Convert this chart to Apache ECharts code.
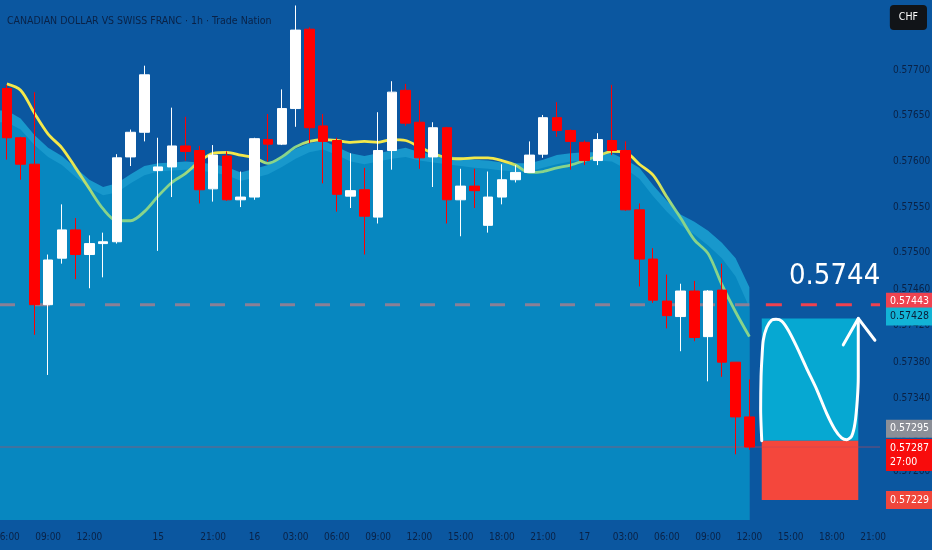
<!DOCTYPE html>
<html><head><meta charset="utf-8">
<script src="https://cdn.jsdelivr.net/npm/echarts@6/dist/echarts.min.js"></script>
<style>html,body{margin:0;padding:0;background:#0b57a0;}#c{width:932px;height:550px;}</style>
</head><body><div id="c"></div>
<script>
// hourly bars (weekend gap between Fri 16:00 and Sun 17:00)
const categories = [
 '14 06:00','14 07:00','14 08:00','14 09:00','14 10:00','14 11:00','14 12:00','14 13:00','14 14:00','14 15:00','14 16:00',
 '15 17:00','15 18:00','15 19:00','15 20:00','15 21:00','15 22:00','15 23:00',
 '16 00:00','16 01:00','16 02:00','16 03:00','16 04:00','16 05:00','16 06:00','16 07:00','16 08:00','16 09:00','16 10:00','16 11:00',
 '16 12:00','16 13:00','16 14:00','16 15:00','16 16:00','16 17:00','16 18:00','16 19:00','16 20:00','16 21:00','16 22:00','16 23:00',
 '17 00:00','17 01:00','17 02:00','17 03:00','17 04:00','17 05:00','17 06:00','17 07:00','17 08:00','17 09:00','17 10:00','17 11:00',
 '17 12:00','17 13:00','17 14:00','17 15:00','17 16:00','17 17:00','17 18:00','17 19:00','17 20:00','17 21:00'
];
const tickLabels = [
 '06:00','','','09:00','','','12:00','','','','',
 '15','','','','21:00','','',
 '16','','','03:00','','','06:00','','','09:00','','',
 '12:00','','','15:00','','','18:00','','','21:00','','',
 '17','','','03:00','','','06:00','','','09:00','','',
 '12:00','','','15:00','','','18:00','','','21:00'
];
// [open, close, low, high]
const ohlc = [
 [0.57680,0.57626,0.57602,0.57684],[0.57626,0.57597,0.57580,0.57627],[0.57597,0.57443,0.57410,0.57676],
 [0.57443,0.57492,0.57366,0.57498],[0.57494,0.57525,0.57488,0.57553],[0.57525,0.57498,0.57471,0.57538],
 [0.57498,0.57510,0.57461,0.57519],[0.57510,0.57512,0.57473,0.57522],[0.57512,0.57604,0.57510,0.57608],
 [0.57605,0.57632,0.57595,0.57635],[0.57632,0.57695,0.57622,0.57705],[0.57590,0.57594,0.57502,0.57626],
 [0.57594,0.57617,0.57561,0.57659],[0.57617,0.57611,0.57601,0.57649],[0.57612,0.57569,0.57554,0.57617],
 [0.57570,0.57607,0.57556,0.57618],[0.57606,0.57558,0.57557,0.57611],[0.57558,0.57561,0.57550,0.57589],
 [0.57561,0.57625,0.57558,0.57626],[0.57624,0.57619,0.57600,0.57652],[0.57619,0.57658,0.57618,0.57679],
 [0.57658,0.57744,0.57638,0.57771],[0.57745,0.57637,0.57620,0.57747],[0.57639,0.57622,0.57576,0.57652],
 [0.57623,0.57564,0.57545,0.57626],[0.57562,0.57568,0.57549,0.57609],[0.57569,0.57540,0.57498,0.57593],
 [0.57539,0.57612,0.57532,0.57654],[0.57612,0.57676,0.57591,0.57688],[0.57678,0.57642,0.57639,0.57685],
 [0.57643,0.57604,0.57592,0.57667],[0.57605,0.57637,0.57572,0.57643],[0.57637,0.57558,0.57532,0.57638],
 [0.57558,0.57573,0.57518,0.57592],[0.57573,0.57568,0.57549,0.57592],[0.57530,0.57561,0.57522,0.57589],
 [0.57561,0.57580,0.57553,0.57597],[0.57580,0.57588,0.57577,0.57596],[0.57588,0.57607,0.57588,0.57622],
 [0.57608,0.57648,0.57604,0.57651],[0.57648,0.57634,0.57627,0.57665],[0.57634,0.57622,0.57591,0.57635],
 [0.57621,0.57601,0.57596,0.57623],[0.57601,0.57624,0.57596,0.57631],[0.57623,0.57612,0.57607,0.57684],
 [0.57612,0.57547,0.57546,0.57622],[0.57547,0.57493,0.57463,0.57554],[0.57493,0.57448,0.57445,0.57505],
 [0.57447,0.57431,0.57417,0.57476],[0.57430,0.57458,0.57392,0.57466],[0.57458,0.57407,0.57403,0.57469],
 [0.57408,0.57458,0.57359,0.57459],[0.57459,0.57380,0.57364,0.57488],[0.57380,0.57320,0.57279,0.57380],
 [0.57320,0.57287,0.57284,0.57361]
];
const maLine = [
 0.57685,0.57678,0.57653,0.57630,0.57615,0.57593,0.57570,0.57548,0.57535,0.57535,0.57545,
 0.57562,0.57577,0.57587,0.57600,0.57609,0.57610,0.57607,0.57604,0.57598,0.57605,0.57616,
 0.57622,0.57624,0.57623,0.57621,0.57622,0.57621,0.57624,0.57623,0.57616,0.57609,0.57604,
 0.57603,0.57604,0.57604,0.57601,0.57596,0.57588,0.57589,0.57593,0.57596,0.57601,0.57606,
 0.57611,0.57610,0.57597,0.57585,0.57561,0.57538,0.57514,0.57499,0.57465,0.57435,0.57408
];
const bandTop = [
 0.57656,0.57647,0.57629,0.57615,0.57606,0.57593,0.57580,0.57572,0.57576,0.57586,0.57595,
 0.57598,0.57599,0.57600,0.57599,0.57597,0.57594,0.57588,0.57592,0.57596,0.57605,0.57614,
 0.57620,0.57623,0.57616,0.57609,0.57606,0.57609,0.57612,0.57615,0.57610,0.57608,0.57606,
 0.57604,0.57602,0.57601,0.57599,0.57598,0.57598,0.57602,0.57607,0.57609,0.57610,0.57610,
 0.57609,0.57602,0.57593,0.57574,0.57557,0.57542,0.57534,0.57524,0.57511,0.57494,0.57462
];
const bandInner = [
 0.57643,0.57635,0.57618,0.57605,0.57596,0.57583,0.57571,0.57563,0.57566,0.57576,0.57585,
 0.57589,0.57590,0.57591,0.57590,0.57588,0.57585,0.57579,0.57582,0.57586,0.57594,0.57603,
 0.57610,0.57613,0.57607,0.57600,0.57597,0.57600,0.57603,0.57605,0.57601,0.57599,0.57597,
 0.57595,0.57593,0.57592,0.57590,0.57589,0.57589,0.57593,0.57597,0.57600,0.57601,0.57601,
 0.57600,0.57592,0.57581,0.57562,0.57545,0.57530,0.57520,0.57508,0.57494,0.57474,0.57440
];
const yTickLabels = ['0.57700','0.57650','0.57600','0.57550','0.57500','0.57460','0.57420','0.57380','0.57340','0.57300','0.57260'];
const levelPrice = 0.57443;
const lastPrice = 0.57287;
const targetPrice = 0.57428, entryPrice = 0.57294, stopPrice = 0.57229;
const boxStartX = 54.9, boxEndX = 61.92;
const levelText = '0.5744', levelTextX = 60.2, levelTextY = 0.57474;
const curveX = [54.90,54.82,54.85,54.92,55.01,55.26,55.62,55.94,56.35,56.83,57.44,58.17,58.90,59.62,60.23,60.71,61.08,61.44,61.68,61.85,61.92,61.92];
const curveY = [0.57294,0.57328,0.57364,0.57386,0.57404,0.57418,0.57426,0.57427,0.57425,0.57415,0.57397,0.57373,0.57350,0.57324,0.57306,0.57297,0.57295,0.57299,0.57313,0.57339,0.57364,0.57428];
const arrowX = [60.83,61.92,63.13];
const arrowY = [0.57399,0.57428,0.57404];
const tags = [
 {price:0.57443, text:'0.57443', bg:'#ef4350', fg:'#ffffff', dy:-3},
 {price:0.57428, text:'0.57428', bg:'#12b3d6', fg:'#0b1d38', dy:-2},
 {price:0.57295, text:'0.57295', bg:'#8b8f98', fg:'#ffffff', dy:-11},
 {price:0.57287, text:'0.57287\n27:00', bg:'#f80c0c', fg:'#ffffff', dy:8},
 {price:0.57229, text:'0.57229', bg:'#f0463b', fg:'#ffffff', dy:0}
];

const FONT = "'DejaVu Sans Condensed',sans-serif";
const NAVY = '#0a2246';
const N = categories.length;
const pts = (xs, ys) => xs.map((x,i)=>[x, ys[i]]);
const areaPts = arr => [[-0.5, arr[0]]].concat(arr.map((v,i)=>[i,v]));
const yLabelSet = new Set(yTickLabels.map(s=>Math.round(parseFloat(s)*1e5)));

const chart = echarts.init(document.getElementById('c'), null, {renderer:'canvas'});
chart.setOption({
  animation:false,
  backgroundColor:'#0b57a0',
  title:[
    {text:'CANADIAN DOLLAR VS SWISS FRANC · 1h · Trade Nation', left:2, top:11,
     textStyle:{color:NAVY, fontSize:10.5, fontWeight:'normal', fontFamily:FONT}},
    {text:'CHF', right:5, top:5, backgroundColor:'#111418', borderRadius:4, padding:[7,9],
     textStyle:{color:'#ffffff', fontSize:10.5, fontWeight:'normal', fontFamily:FONT}}
  ],
  grid:{left:0, right:52, top:0, bottom:30, outerBoundsMode:'none', containLabel:false},
  xAxis:[
    {type:'category', data:categories, boundaryGap:true,
     axisLine:{show:false}, axisTick:{show:false}, splitLine:{show:false},
     axisLabel:{interval:0, color:NAVY, fontSize:10, fontFamily:FONT, margin:12,
       formatter:(v,i)=>tickLabels[i]||''}},
    {type:'value', min:-0.5, max:N-0.5, show:false}
  ],
  yAxis:{type:'value', position:'right', min:0.57207, max:0.57777, interval:0.00001, scale:true,
    axisLine:{show:false}, axisTick:{show:false}, splitLine:{show:false},
    axisLabel:{color:NAVY, fontSize:10, fontFamily:FONT, margin:13, showMinLabel:false, showMaxLabel:false,
      formatter:v=>{const k=Math.round(v*1e5); return yLabelSet.has(k)?(k/1e5).toFixed(5):'';}}},
  series:[
    {type:'line', xAxisIndex:1, data:areaPts(bandTop), symbol:'none', silent:true,
     lineStyle:{width:0}, areaStyle:{color:'#1898cc', opacity:1, origin:'start'}, z:1},
    {type:'line', xAxisIndex:1, data:areaPts(bandInner), symbol:'none', silent:true,
     lineStyle:{width:0}, areaStyle:{color:'#0787c0', opacity:1, origin:'start'}, z:1,
     markArea:{silent:true, data:[
       [{coord:[boxStartX,targetPrice], itemStyle:{color:'#06a8d2', opacity:1}},{coord:[boxEndX,entryPrice]}],
       [{coord:[boxStartX,entryPrice], itemStyle:{color:'#f4473c', opacity:1}},{coord:[boxEndX,stopPrice]}]
     ]}},
    {type:'line', xAxisIndex:1, data:[[-0.5,lastPrice],[N-0.5,lastPrice]], symbol:'none', silent:true,
     lineStyle:{color:'#c84455', width:1, opacity:0.6}, z:2},
    {type:'line', xAxisIndex:1, data:[[-0.5,levelPrice],[54,levelPrice]], symbol:'none', silent:true,
     lineStyle:{color:'#8a8096', width:3, type:[15,20]}, z:3},
    {type:'line', xAxisIndex:1, data:[[55.2,levelPrice],[N-0.5,levelPrice]], symbol:'none', silent:true,
     lineStyle:{color:'#f0414f', width:3, type:[16,19]}, z:3},
    {type:'line', xAxisIndex:1, data:maLine.map((v,i)=>[i,v]), symbol:'none', silent:true, smooth:0.3,
     lineStyle:{width:2.8, color:{type:'linear', x:0, y:0, x2:1, y2:0, colorStops:[
       {offset:0,color:'#f4e84a'},{offset:0.086,color:'#f4e84a'},{offset:0.127,color:'#88d48a'},
       {offset:0.235,color:'#88d48a'},{offset:0.275,color:'#f4e84a'},{offset:0.329,color:'#f4e84a'},
       {offset:0.353,color:'#88d48a'},{offset:0.389,color:'#88d48a'},{offset:0.42,color:'#f4e84a'},
       {offset:0.558,color:'#f4e84a'},{offset:0.585,color:'#c6df66'},{offset:0.612,color:'#f4e84a'},
       {offset:0.672,color:'#f4e84a'},{offset:0.693,color:'#88d48a'},{offset:0.787,color:'#88d48a'},
       {offset:0.811,color:'#f4e84a'},{offset:0.868,color:'#f4e84a'},{offset:0.898,color:'#88d48a'},
       {offset:1,color:'#88d48a'}]}}, z:4},
    {type:'candlestick', xAxisIndex:0, data:ohlc, barWidth:10, z:5,
     itemStyle:{color:'#ffffff', color0:'#ff0000', borderColor:'#ffffff', borderColor0:'#ff0000', borderWidth:1}},
    {type:'line', xAxisIndex:1, data:pts(curveX,curveY), symbol:'none', smooth:0.25, silent:true,
     lineStyle:{color:'#ffffff', width:3, cap:'round', join:'round'}, z:6},
    {type:'line', xAxisIndex:1, data:pts(arrowX,arrowY), symbol:'none', silent:true,
     lineStyle:{color:'#ffffff', width:3, cap:'round', join:'round'}, z:6}
  ]
});

// price tags and level label, positioned through the chart's own scales
const yPix = p => chart.convertToPixel({yAxisIndex:0}, p);
const xPix = v => chart.convertToPixel({xAxisIndex:1}, v);
const plotRight = xPix(N-0.5);
const gfx = tags.map(t=>({type:'text', x:plotRight+6, y:yPix(t.price)+t.dy, z:100,
  style:{text:t.text, fill:t.fg, backgroundColor:t.bg, padding:[2,4,2,4], lineHeight:14,
         font:"10.5px 'DejaVu Sans Condensed', sans-serif", verticalAlign:'middle', align:'left'}}));
gfx.push({type:'text', x:xPix(levelTextX), y:yPix(levelTextY), z:100,
  style:{text:levelText, fill:'#ffffff', font:"29px 'DejaVu Sans Condensed', sans-serif", align:'center', verticalAlign:'middle'}});
chart.setOption({graphic:gfx});
</script></body></html>
